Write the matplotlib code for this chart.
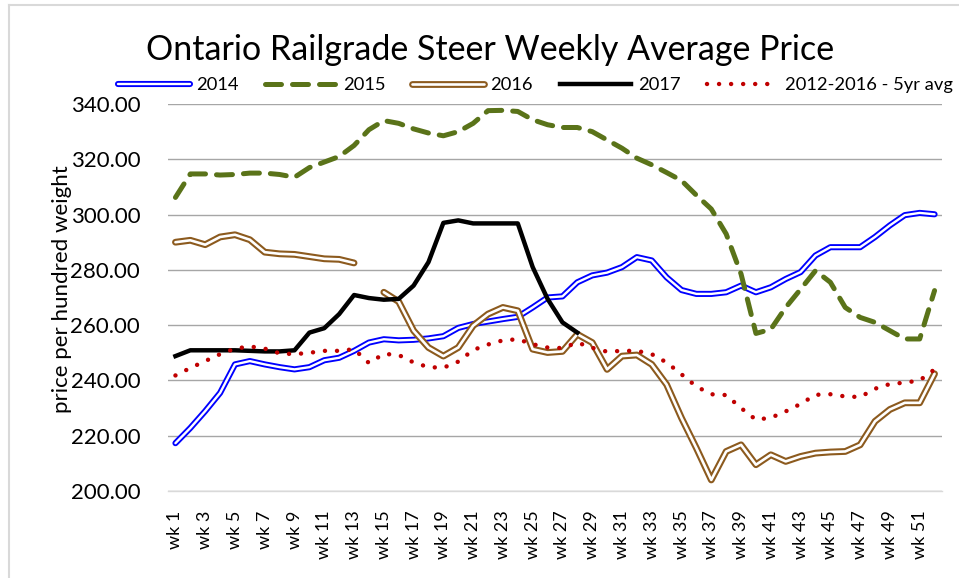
import numpy as np
import matplotlib
matplotlib.use('Agg')
import matplotlib.pyplot as plt
from matplotlib.lines import Line2D

plt.rcParams['font.family'] = ['Lato', 'DejaVu Sans']

nan = np.nan
weeks = np.arange(1, 53)
week_labels = ['wk %d' % w for w in weeks]

y2014 = [217.3, 222.8, 228.9, 235.5, 245.8, 247.0, 245.8, 244.8, 244.0, 244.8,
         247.3, 248.2, 250.7, 253.7, 254.9, 254.5, 254.7, 255.2, 256.0, 259.0,
         260.4, 261.3, 262.2, 263.0, 266.4, 270.0, 270.4, 275.5, 278.0, 279.0,
         281.0, 284.6, 283.4, 277.3, 272.7, 271.3, 271.3, 271.9, 274.3, 271.9,
         273.7, 276.7, 279.2, 285.2, 288.2, 288.2, 288.2, 291.9, 296.1, 299.8,
         300.6, 300.1]
y2015 = [306.2, 314.7, 314.7, 314.3, 314.5, 315.0, 315.0, 314.5, 313.5, 317.0,
         319.0, 321.0, 325.0, 330.7, 334.0, 333.0, 331.0, 329.5, 328.5, 330.0,
         333.0, 337.6, 337.7, 337.3, 334.3, 332.5, 331.5, 331.5, 330.0, 327.0,
         324.0, 320.4, 318.0, 315.2, 312.3, 307.0, 302.0, 293.0, 278.5, 257.0,
         258.5, 266.4, 273.0, 279.7, 275.5, 266.4, 262.8, 261.0, 258.0, 255.0,
         255.0, 272.5]
y2016 = [290.0, 290.7, 289.1, 291.9, 292.7, 290.9, 286.4, 285.8, 285.6, 284.8,
         284.0, 283.8, 282.5, nan, 271.9, 268.5, 258.0, 251.9, 248.8, 251.9,
         259.8, 264.0, 266.4, 265.2, 251.3, 250.1, 250.5, 256.7, 253.7, 244.0,
         248.8, 249.2, 245.8, 238.5, 226.4, 215.5, 204.0, 214.3, 216.7, 209.5,
         213.1, 210.7, 212.5, 213.7, 214.1, 214.3, 216.7, 225.2, 229.5, 231.9,
         231.9, 242.4]
y2017 = [248.8, 250.9, 250.9, 250.9, 250.9, 250.7, 250.5, 250.5, 250.9, 257.3,
         258.9, 264.0, 270.9, 269.8, 269.2, 269.5, 274.3, 282.8, 297.0, 297.9,
         296.8, 296.8, 296.8, 296.8, 281.0, 269.5, 261.0, 257.3] + [nan] * 24
avg5 = [241.8, 244.5, 247.0, 249.5, 251.5, 252.3, 251.5, 249.8, 249.5, 250.0,
        250.7, 250.7, 251.3, 246.3, 249.6, 249.2, 246.5, 244.8, 244.6, 246.8,
        251.0, 253.0, 254.5, 254.9, 253.1, 251.9, 251.7, 253.7, 251.8, 250.4,
        250.7, 250.7, 249.5, 246.5, 242.2, 237.8, 235.0, 234.7, 230.0, 225.8,
        226.5, 228.8, 231.5, 234.8, 235.0, 234.2, 234.0, 237.0, 238.7, 239.2,
        240.0, 244.0]

blue = '#0000ff'
green = '#5a7319'
brown = '#8c5a1e'
red = '#c00000'

fig = plt.figure(figsize=(9.59, 5.78), dpi=100)
ax = fig.add_axes([168 / 959, 1 - 491 / 578, (942 - 168) / 959, (491 - 104) / 578])

# double lines: thick colour with a thin white core
def double_line(y, color, outer, inner):
    ax.plot(weeks, y, color=color, lw=outer, solid_capstyle='round', solid_joinstyle='round')
    ax.plot(weeks, y, color='white', lw=inner, solid_capstyle='round', solid_joinstyle='round')
    return (Line2D([], [], color=color, lw=outer, solid_capstyle='round'),
            Line2D([], [], color='white', lw=inner, solid_capstyle='round'))

h14 = double_line(y2014, blue, 4.4, 1.7)
h15, = ax.plot(weeks, y2015, color=green, lw=3.6, dashes=(3.2, 2.2), dash_capstyle='round')
h16 = double_line(y2016, brown, 4.9, 1.9)
h17, = ax.plot(weeks, y2017, color='black', lw=3.2, solid_joinstyle='round')
h5, = ax.plot(weeks, avg5, color=red, lw=3.2, dashes=(0.01, 2.7), dash_capstyle='round')

ax.set_ylim(200, 340)
ax.set_xlim(0.5, 52.5)
ax.set_yticks(np.arange(200, 341, 20))
ax.set_yticklabels(['%.2f' % v for v in np.arange(200, 341, 20)], fontsize=16)
ax.set_xticks(weeks[::2])
ax.set_xticklabels(week_labels[::2], rotation=90, fontsize=13, va='top')
ax.tick_params(length=0)
ax.tick_params(axis='y', pad=20)
ax.tick_params(axis='x', pad=14)
ax.grid(axis='y', color='#a6a6a6', lw=1)
ax.set_axisbelow(True)
for s in ['left', 'right', 'top']:
    ax.spines[s].set_visible(False)
ax.spines['bottom'].set_color('#d9d9d9')
ax.spines['bottom'].set_linewidth(1)

ax.set_ylabel('price per hundred weight', fontsize=16)
ax.yaxis.set_label_coords(62 / 959, 0.5, transform=fig.transFigure)
ax.yaxis.label.set_va('center')

fig.text(490 / 959, 1 - 50 / 578, 'Ontario Railgrade Steer Weekly Average Price',
         ha='center', va='center', fontsize=24.5)

fig.legend([h14, h15, h16, h17, h5],
           ['2014', '2015', '2016', '2017', '2012-2016 - 5yr avg'],
           loc='center left', bbox_to_anchor=(118 / 959, 1 - 85 / 578),
           ncol=5, frameon=False, fontsize=13.2, handlelength=3.9,
           handletextpad=0.36, columnspacing=1.45, borderpad=0, borderaxespad=0)

# light grey frame around the chart
fig.add_artist(Line2D([9 / 959, 9 / 959], [0, 1 - 5 / 578], color='#d9d9d9', lw=1.5))
fig.add_artist(Line2D([9 / 959, 1], [1 - 5 / 578, 1 - 5 / 578], color='#d9d9d9', lw=1.5))

fig.savefig('out.png', dpi=100)
